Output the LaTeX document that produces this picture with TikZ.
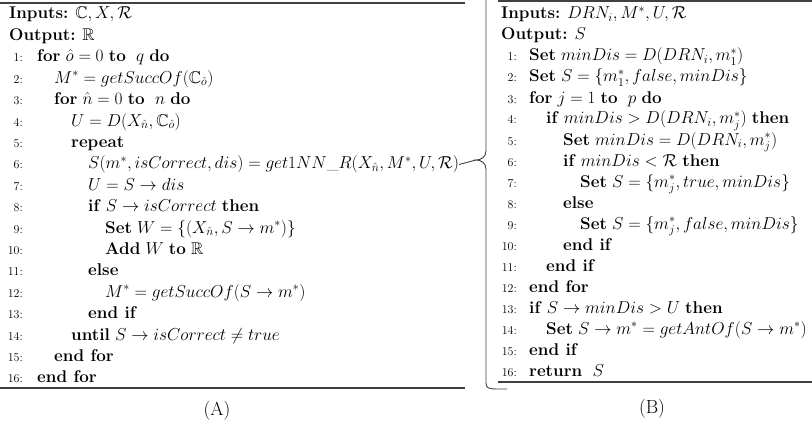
\documentclass[tikz,border=0pt]{standalone}
\usepackage{amsmath}
\usepackage{amssymb}
\usetikzlibrary{positioning}
\tikzset{
  ln/.style     = {anchor=base east, inner sep=0pt, font=\fontsize{12}{14}\selectfont},
  st/.style     = {anchor=base west, inner sep=0pt},
  rul/.style    = {line width=1.3pt, black!75},
  brc/.style    = {line width=0.9pt, black!75},
  captxt/.style = {font=\fontsize{19}{22}\selectfont},
}
\newcommand{\kw}[1]{\textbf{#1}}

\begin{document}
\begin{tikzpicture}[x=1pt, y=-1pt, font=\fontsize{17}{21}\selectfont]
  \useasboundingbox (0,0) rectangle (812,428);
  % rules
  \draw[rul] (0,3) -- (465,3);
  \draw[rul] (0,388) -- (465,388);
  \draw[rul] (498,1) -- (812,1);
  \draw[rul] (498,382) -- (812,382);
  % (A)
  \begin{scope}[y=-21.4pt, yshift=-19pt]
    \node[st] (ina) at (9,0) {\kw{Inputs:} $\mathbb{C}, X, \mathcal{R}$};
    \node[st] (outa) at (9,1) {\kw{Output:} $\mathbb{R}$};
    \foreach \i in {1,...,16}
      \node[ln] (na\i) at (23,\i+1) {\i:};
    \node[st] (a1) at (37,2) {\kw{for} $\hat{o}=0$ \kw{to}\ \ $q$ \kw{do}};
    \node[st] (a2) at (54,3) {$M^* = getSuccOf(\mathbb{C}_{\hat{o}})$};
    \node[st] (a3) at (54,4) {\kw{for} $\hat{n}=0$ \kw{to}\ \ $n$ \kw{do}};
    \node[st] (a4) at (71,5) {$U = D(X_{\hat{n}}, \mathbb{C}_{\hat{o}})$};
    \node[st] (a5) at (71,6) {\kw{repeat}};
    \node[st] (a6) at (88,7) {$S(m^*, isCorrect, dis) = get1NN\_R(X_{\hat{n}}, M^*, U, \mathcal{R})$};
    \node[st] (a7) at (88,8) {$U = S \rightarrow dis$};
    \node[st] (a8) at (88,9) {\kw{if} $S \rightarrow isCorrect$ \kw{then}};
    \node[st] (a9) at (105,10) {\kw{Set} $W = \{(X_{\hat{n}}, S \rightarrow m^*)\}$};
    \node[st] (a10) at (105,11) {\kw{Add} $W$ \kw{to} $\mathbb{R}$};
    \node[st] (a11) at (88,12) {\kw{else}};
    \node[st] (a12) at (105,13) {$M^* = getSuccOf(S \rightarrow m^*)$};
    \node[st] (a13) at (88,14) {\kw{end if}};
    \node[st] (a14) at (71,15) {\kw{until} $S \rightarrow isCorrect \neq true$};
    \node[st] (a15) at (54,16) {\kw{end for}};
    \node[st] (a16) at (37,17) {\kw{end for}};
  \end{scope}
  % (B)
  \begin{scope}[y=-21pt, yshift=-19pt]
    \node[st] (inb) at (501,0) {\kw{Inputs:} $DRN_i, M^*, U, \mathcal{R}$};
    \node[st] (outb) at (501,1) {\kw{Output:} $S$};
    \foreach \i in {1,...,16}
      \node[ln] (nb\i) at (517,\i+1) {\i:};
    \node[st] (b1) at (529,2) {\kw{Set} $minDis = D(DRN_i, m^*_1)$};
    \node[st] (b2) at (529,3) {\kw{Set} $S = \{m^*_1, false, minDis\}$};
    \node[st] (b3) at (529,4) {\kw{for} $j=1$ \kw{to}\ \ $p$ \kw{do}};
    \node[st] (b4) at (546,5) {\kw{if} $minDis > D(DRN_i, m^*_j)$ \kw{then}};
    \node[st] (b5) at (563,6) {\kw{Set} $minDis = D(DRN_i, m^*_j)$};
    \node[st] (b6) at (563,7) {\kw{if} $minDis < \mathcal{R}$ \kw{then}};
    \node[st] (b7) at (580,8) {\kw{Set} $S = \{m^*_j, true, minDis\}$};
    \node[st] (b8) at (563,9) {\kw{else}};
    \node[st] (b9) at (580,10) {\kw{Set} $S = \{m^*_j, false, minDis\}$};
    \node[st] (b10) at (563,11) {\kw{end if}};
    \node[st] (b11) at (546,12) {\kw{end if}};
    \node[st] (b12) at (529,13) {\kw{end for}};
    \node[st] (b13) at (529,14) {\kw{if} $S \rightarrow minDis > U$ \kw{then}};
    \node[st] (b14) at (546,15) {\kw{Set} $S \rightarrow m^* = getAntOf(S \rightarrow m^*)$};
    \node[st] (b15) at (529,16) {\kw{end if}};
    \node[st] (b16) at (529,17) {\kw{return}\ \ $S$};
  \end{scope}
  % brace
  \coordinate (tip) at (476,160);
  \draw[brc] (a6.east) -- (tip);
  \draw[brc] (486,-4) -- (486,151) .. controls (486,157) and (481,160) .. (tip)
    .. controls (481,160) and (486,163) .. (486,169) -- (486,383)
    .. controls (486,388) and (489,389) .. (496,389) -- (507,389);
  % captions
  \node[captxt] (capa) at (217,411) {(A)};
  \node[captxt] (capb) at (652,409) {(B)};
\end{tikzpicture}
\end{document}
